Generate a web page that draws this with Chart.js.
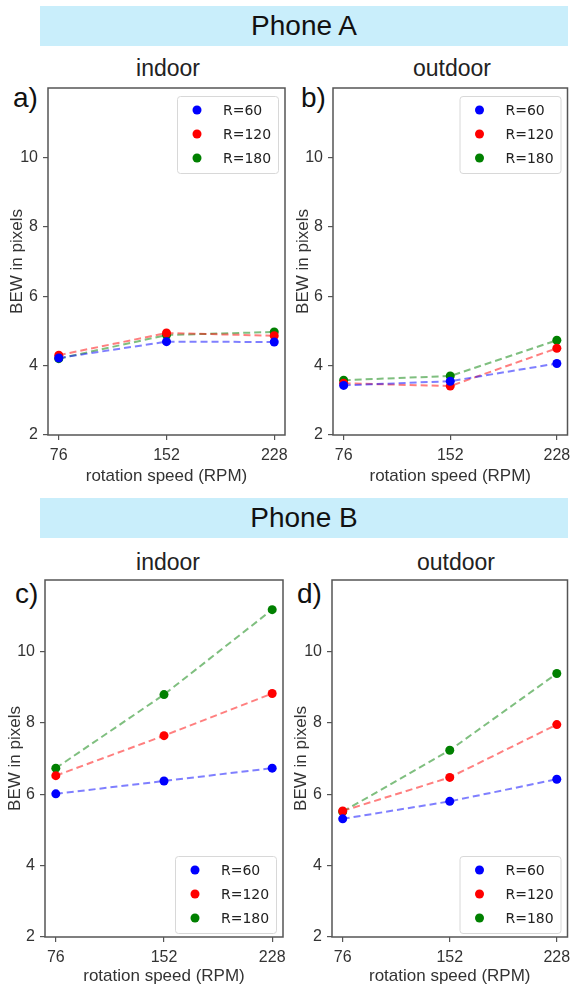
<!DOCTYPE html>
<html>
<head>
<meta charset="utf-8">
<script src="https://cdn.jsdelivr.net/npm/chart.js@4/dist/chart.umd.min.js"></script>
<style>
  html, body { margin: 0; padding: 0; background: #fff; }
  body { width: 572px; height: 989px; position: relative; overflow: hidden; font-family: "Liberation Sans", Arial, sans-serif; }
  .banner { position: absolute; left: 40px; width: 528px; height: 40px; background: #c9eefb; text-align: center; font-size: 28px; line-height: 40px; color: #111; }
  .ttl { position: absolute; font-size: 23px; color: #222; transform: translate(-50%, -50%); white-space: nowrap; }
  .tag { position: absolute; font-size: 28px; color: #111; line-height: 1; transform: translateY(-50%); }
  canvas { position: absolute; }
</style>
</head>
<body>
<div class="banner" style="top:6px">Phone A</div>
<div class="banner" style="top:498px">Phone B</div>

<div class="ttl" style="left:168px;top:68px">indoor</div>
<div class="ttl" style="left:452px;top:68px">outdoor</div>
<div class="ttl" style="left:168px;top:562px">indoor</div>
<div class="ttl" style="left:456px;top:562px">outdoor</div>

<div class="tag" style="left:13px;top:98px">a)</div>
<div class="tag" style="left:301px;top:98px">b)</div>
<div class="tag" style="left:15px;top:594px">c)</div>
<div class="tag" style="left:297px;top:594px">d)</div>

<canvas id="pa"></canvas>
<canvas id="pb"></canvas>
<canvas id="pc"></canvas>
<canvas id="pd"></canvas>

<script>
// rotation speeds (x) and the three radii
const rpm = [76, 152, 228];
const radiusLabels = ['R=60', 'R=120', 'R=180'];
const yTickValues = [2, 4, 6, 8, 10];

// BEW in pixels
const phoneAIndoor60 = [4.22, 4.69, 4.68];
const phoneAIndoor120 = [4.30, 4.94, 4.86];
const phoneAIndoor180 = [4.20, 4.88, 4.97];

const phoneAOutdoor60 = [3.43, 3.55, 4.06];
const phoneAOutdoor120 = [3.49, 3.41, 4.50];
const phoneAOutdoor180 = [3.58, 3.70, 4.73];

const phoneBIndoor60 = [6.01, 6.37, 6.73];
const phoneBIndoor120 = [6.52, 7.64, 8.82];
const phoneBIndoor180 = [6.73, 8.79, 11.17];

const phoneBOutdoor60 = [5.31, 5.80, 6.42];
const phoneBOutdoor120 = [5.53, 6.47, 7.95];
const phoneBOutdoor180 = [5.51, 7.23, 9.38];

const pointColors = ['#0000ff', '#ff0000', '#008000'];
const lineColors = ['rgba(0,0,255,0.5)', 'rgba(255,0,0,0.5)', 'rgba(0,128,0,0.5)'];

const AXIS_GRAY = '#555';
const FONT = '"Liberation Sans", Arial, sans-serif';

// box around the plot area (matplotlib spines)
const framePlugin = {
    id: 'frame',
    beforeDatasetsDraw(chart) {
        const { ctx, chartArea: a } = chart;
        ctx.save();
        ctx.strokeStyle = AXIS_GRAY;
        ctx.lineWidth = 1.5;
        ctx.strokeRect(a.left, a.top, a.right - a.left, a.bottom - a.top);
        ctx.restore();
    }
};

// legend drawn inside the plot area, upper or lower right
const boxLegend = {
    id: 'boxLegend',
    afterDraw(chart, args, opts) {
        const { ctx, chartArea: a } = chart;
        const w = 101, h = 77;
        const x = a.right - 7 - w;
        const y = opts.corner === 'bottom' ? a.bottom - 4 - h : a.top + 8;
        ctx.save();
        ctx.beginPath();
        ctx.roundRect(x + 0.5, y + 0.5, w, h, 3);
        ctx.fillStyle = 'rgba(255,255,255,0.85)';
        ctx.fill();
        ctx.strokeStyle = '#d8d8d8';
        ctx.lineWidth = 1;
        ctx.stroke();
        chart.data.datasets.forEach((ds, i) => {
            const cy = y + 14 + i * 24;
            ctx.beginPath();
            ctx.arc(x + 20, cy, 4.5, 0, Math.PI * 2);
            ctx.fillStyle = ds.pointBackgroundColor;
            ctx.fill();
            ctx.fillStyle = '#222';
            ctx.font = '14px "DejaVu Sans"';
            ctx.textBaseline = 'middle';
            ctx.fillText(ds.label, x + 46, cy + 1);
        });
        ctx.restore();
    }
};

function makePanel(id, box, series, corner) {
    const canvas = document.getElementById(id);
    canvas.width = box.w;
    canvas.height = box.h;
    canvas.style.left = box.x + 'px';
    canvas.style.top = box.y + 'px';

    const datasets = series.map((vals, i) => ({
        label: radiusLabels[i],
        data: rpm.map((r, j) => ({ x: r, y: vals[j] })),
        borderColor: lineColors[i],
        borderWidth: 2,
        borderDash: [7, 4],
        pointRadius: 4.5,
        pointBorderWidth: 0,
        pointBackgroundColor: pointColors[i]
    }));

    return new Chart(canvas.getContext('2d'), {
        type: 'line',
        data: { datasets },
        options: {
            responsive: false,
            animation: false,
            devicePixelRatio: 1,
            layout: {
                padding: { left: 0, bottom: 0, top: box.aTop - box.y, right: box.x + box.w - box.aRight }
            },
            plugins: {
                legend: { display: false },
                tooltip: { enabled: false },
                boxLegend: { corner }
            },
            scales: {
                x: {
                    type: 'linear',
                    min: 68.4,
                    max: 235.6,
                    afterBuildTicks: s => { s.ticks = rpm.map(v => ({ value: v })); },
                    afterFit: s => {
                        s.height = box.y + box.h - box.aBottom;
                        s.paddingLeft = 0;
                        s.paddingRight = 0;
                    },
                    border: { display: false },
                    grid: { drawOnChartArea: false, tickLength: 5, color: AXIS_GRAY, lineWidth: 1.2 },
                    ticks: { color: '#333', padding: 6, maxRotation: 0, font: { family: FONT, size: 16 } },
                    title: {
                        display: true,
                        text: 'rotation speed (RPM)',
                        color: '#333',
                        padding: { top: 0, bottom: box.xTitlePad },
                        font: { family: FONT, size: 17 }
                    }
                },
                y: {
                    min: 2,
                    max: 12,
                    afterBuildTicks: s => { s.ticks = yTickValues.map(v => ({ value: v })); },
                    afterFit: s => {
                        s.width = box.aLeft - box.x;
                        s.paddingTop = 0;
                        s.paddingBottom = 0;
                    },
                    border: { display: false },
                    grid: { drawOnChartArea: false, tickLength: 5, color: AXIS_GRAY, lineWidth: 1.2 },
                    ticks: { color: '#333', padding: 5, font: { family: FONT, size: 16 } },
                    title: {
                        display: true,
                        text: 'BEW in pixels',
                        color: '#333',
                        padding: { top: box.yTitlePad, bottom: 0 },
                        font: { family: FONT, size: 17 }
                    }
                }
            }
        },
        plugins: [framePlugin, boxLegend]
    });
}

makePanel('pa',
    { x: 0, y: 80, w: 290, h: 410, aLeft: 48, aTop: 88, aRight: 285, aBottom: 435, yTitlePad: 7, xTitlePad: 3 },
    [phoneAIndoor60, phoneAIndoor120, phoneAIndoor180], 'top');
makePanel('pb',
    { x: 290, y: 80, w: 282, h: 410, aLeft: 333, aTop: 88, aRight: 568, aBottom: 435, yTitlePad: 3, xTitlePad: 3 },
    [phoneAOutdoor60, phoneAOutdoor120, phoneAOutdoor180], 'top');
makePanel('pc',
    { x: 0, y: 572, w: 290, h: 417, aLeft: 45, aTop: 580, aRight: 283, aBottom: 937, yTitlePad: 5, xTitlePad: 2 },
    [phoneBIndoor60, phoneBIndoor120, phoneBIndoor180], 'bottom');
makePanel('pd',
    { x: 290, y: 572, w: 282, h: 417, aLeft: 332, aTop: 580, aRight: 569, aBottom: 937, yTitlePad: 1, xTitlePad: 2 },
    [phoneBOutdoor60, phoneBOutdoor120, phoneBOutdoor180], 'bottom');
</script>
</body>
</html>
